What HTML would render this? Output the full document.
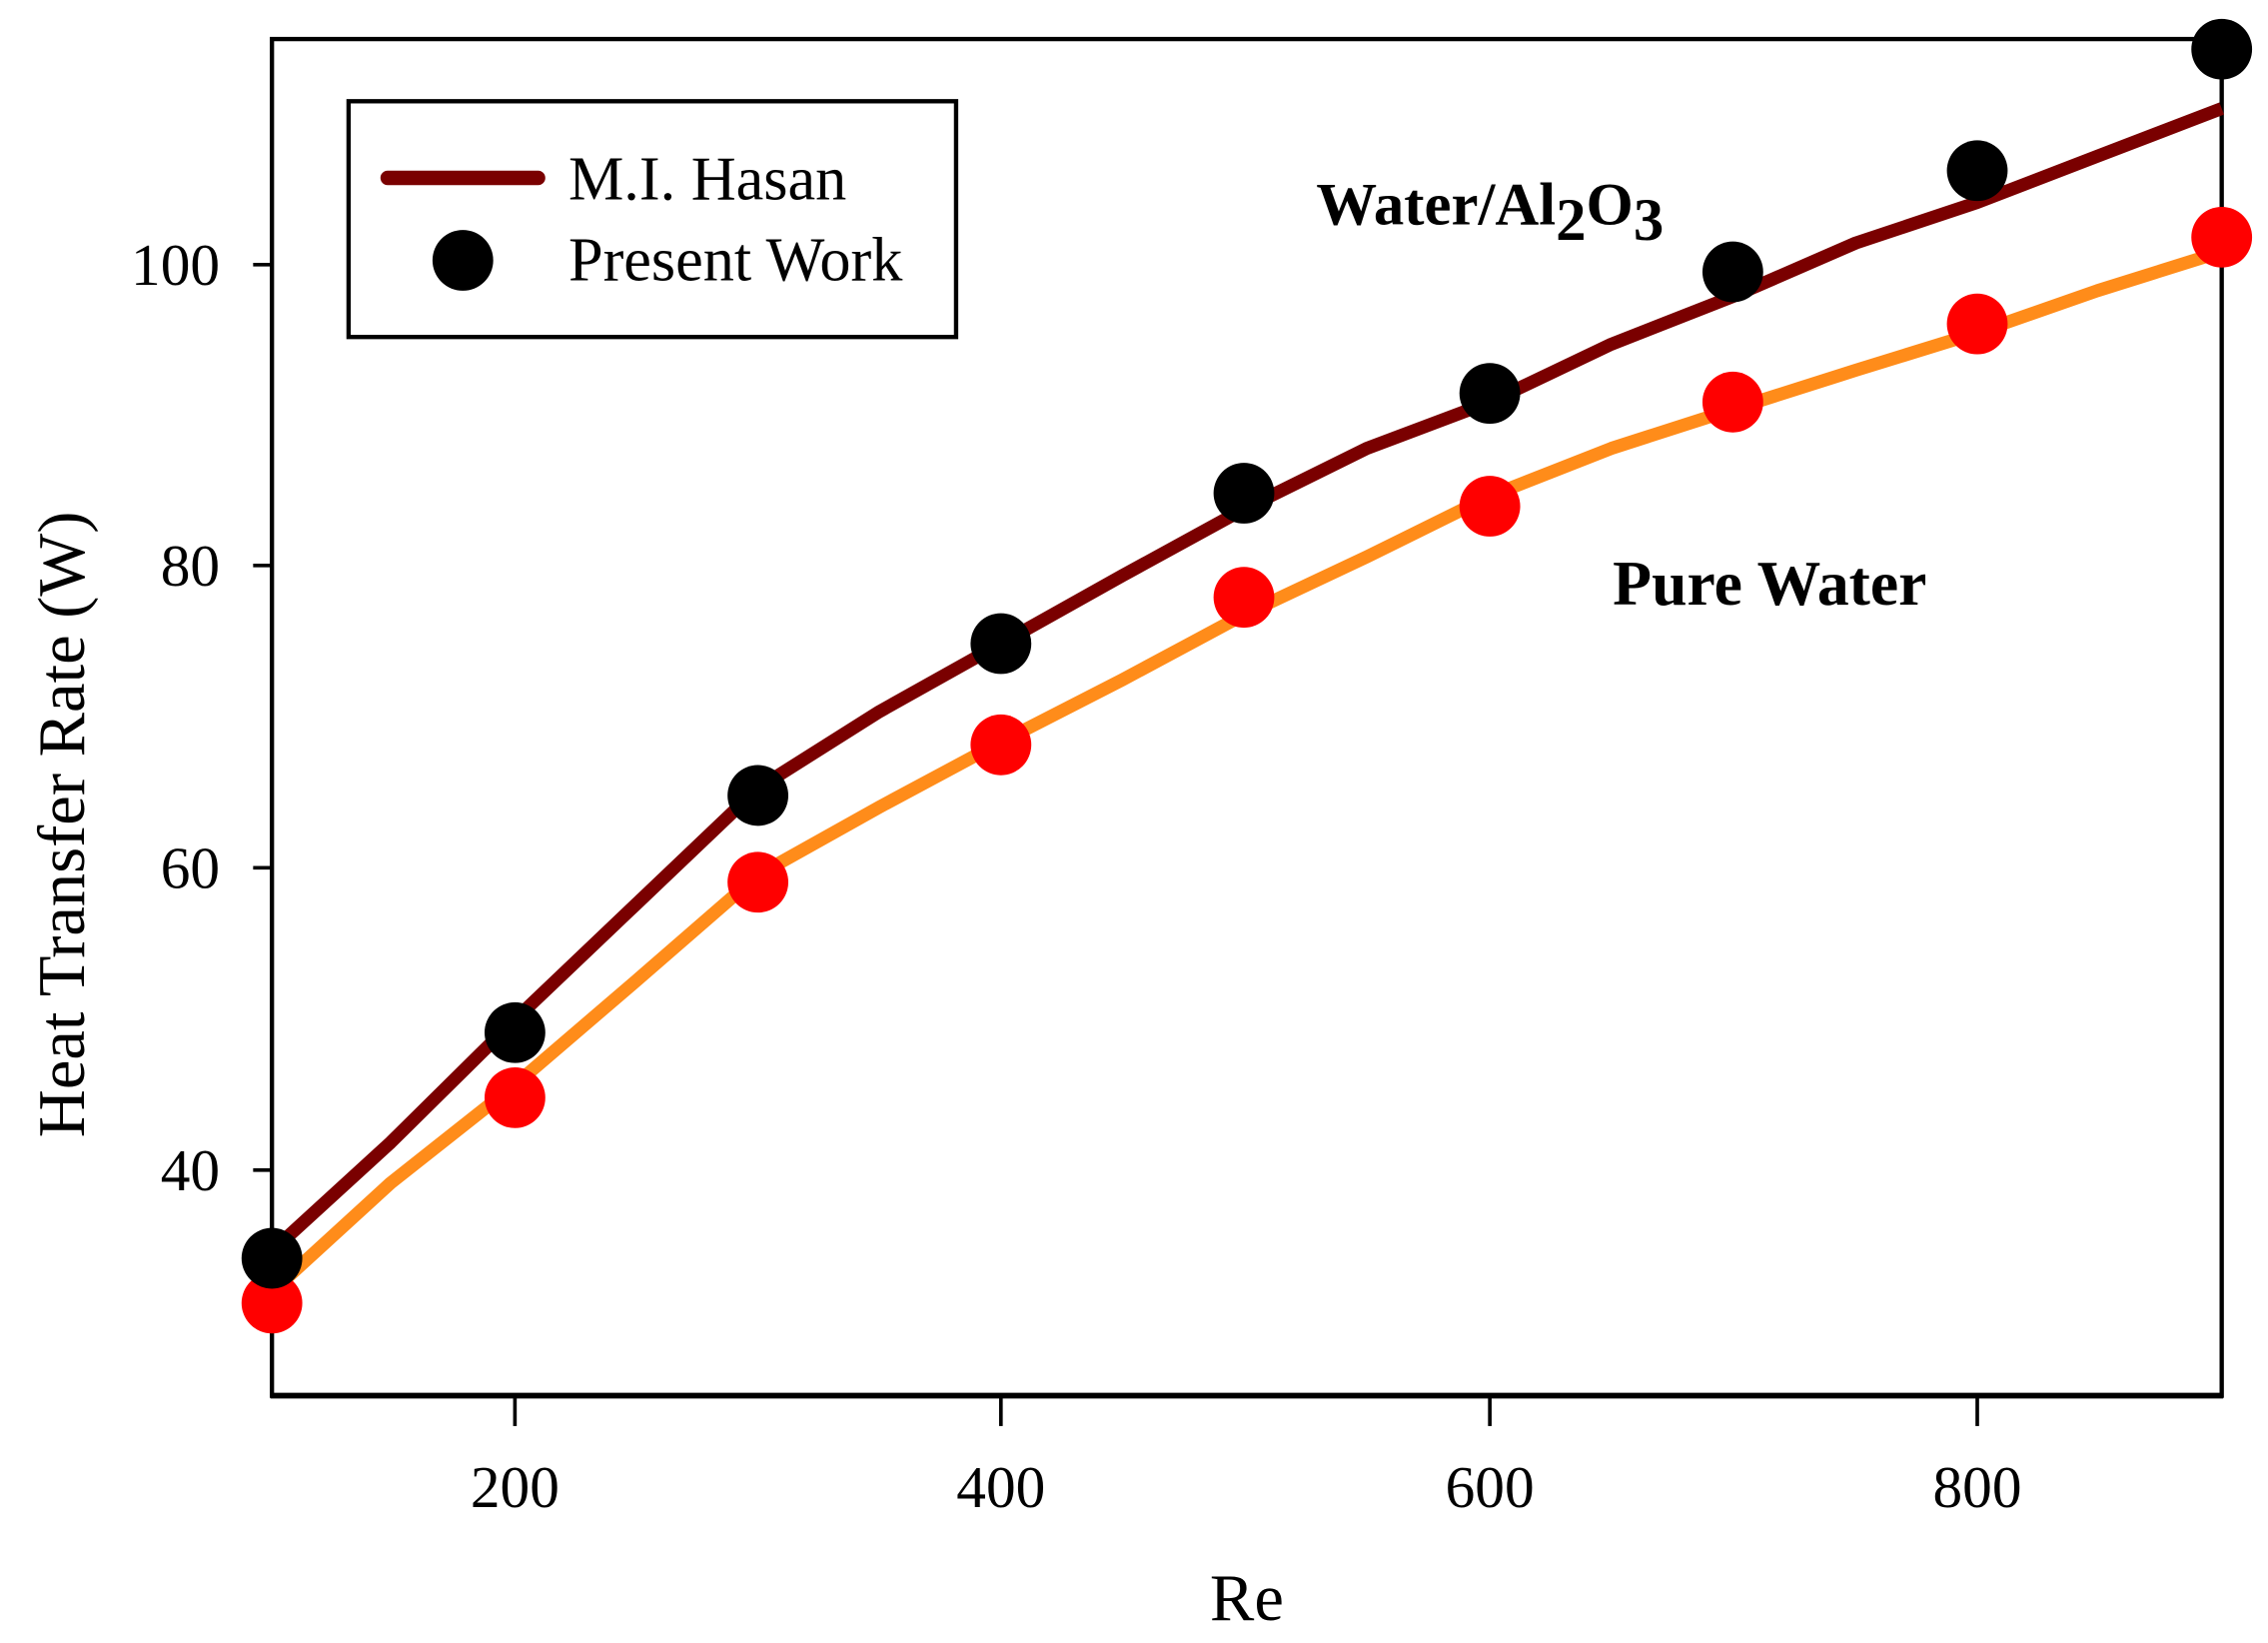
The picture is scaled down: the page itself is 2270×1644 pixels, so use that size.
<!DOCTYPE html>
<html><head><meta charset="utf-8"><style>html,body{margin:0;padding:0;background:#fff}svg{display:block}</style></head>
<body>
<svg width="2270" height="1644" viewBox="0 0 1568 1136" preserveAspectRatio="none" xmlns="http://www.w3.org/2000/svg" font-family="'Liberation Serif', serif">
<rect width="1568" height="1136" fill="#fff"/>
<rect x="188" y="27" width="1348" height="938" fill="none" stroke="#000" stroke-width="3"/>
<line x1="187" y1="965" x2="1537" y2="965" stroke="#000" stroke-width="4"/>
<g stroke="#000" stroke-width="2.5">
<line x1="175" y1="183" x2="188" y2="183"/><line x1="175" y1="391" x2="188" y2="391"/>
<line x1="175" y1="600" x2="188" y2="600"/><line x1="175" y1="809" x2="188" y2="809"/>
<line x1="356" y1="965" x2="356" y2="986"/><line x1="692" y1="965" x2="692" y2="986"/>
<line x1="1030" y1="965" x2="1030" y2="986"/><line x1="1367" y1="965" x2="1367" y2="986"/>
</g>
<g font-size="41" fill="#000" text-anchor="end">
<text x="152" y="197">100</text><text x="152" y="405">80</text><text x="152" y="614">60</text><text x="152" y="823">40</text>
</g>
<g font-size="41" fill="#000" text-anchor="middle">
<text x="356" y="1042">200</text><text x="692" y="1042">400</text><text x="1030" y="1042">600</text><text x="1367" y="1042">800</text>
</g>
<text x="862" y="1120" font-size="46" text-anchor="middle">Re</text>
<text transform="translate(58,570) rotate(-90)" font-size="46" text-anchor="middle">Heat Transfer Rate (W)</text>
<polyline fill="none" stroke="#7a0000" stroke-width="9" stroke-linejoin="round" points="188,865 270,790 356,705 440,625 524,545 608,492 692,445 776,398 860,352 945,310 1030,278 1114,238 1198,205 1283,168 1367,140 1450,108 1536,75"/>
<polyline fill="none" stroke="#ff8c1a" stroke-width="9" stroke-linejoin="round" points="188,893 270,818 356,750 440,678 524,605 608,558 692,513 776,470 860,425 945,385 1030,343 1114,310 1198,283 1283,256 1367,230 1450,201 1536,174"/>
<g fill="#ff0000">
<circle cx="188" cy="901" r="21"/><circle cx="356" cy="759" r="21"/><circle cx="524" cy="610" r="21"/><circle cx="692" cy="515" r="21"/><circle cx="860" cy="413" r="21"/><circle cx="1030" cy="350" r="21"/><circle cx="1198" cy="278" r="21"/><circle cx="1367" cy="224" r="21"/><circle cx="1536" cy="164" r="21"/>
</g>
<g fill="#000">
<circle cx="188" cy="870" r="21"/><circle cx="356" cy="714" r="21"/><circle cx="524" cy="550" r="21"/><circle cx="692" cy="445" r="21"/><circle cx="860" cy="341" r="21"/><circle cx="1030" cy="272" r="21"/><circle cx="1198" cy="188" r="21"/><circle cx="1367" cy="118" r="21"/><circle cx="1536" cy="34" r="21"/>
</g>
<rect x="241" y="70" width="420" height="163" fill="#fff" stroke="#000" stroke-width="3"/>
<line x1="268" y1="123" x2="372" y2="123" stroke="#7a0000" stroke-width="10" stroke-linecap="round"/>
<circle cx="320" cy="180" r="21" fill="#000"/>
<text x="393" y="138" font-size="43">M.I. Hasan</text>
<text x="393" y="194" font-size="43">Present Work</text>
<text x="910" y="155" font-size="42" font-weight="bold">Water/Al<tspan dy="11">2</tspan><tspan dy="-11">O</tspan><tspan dy="11">3</tspan></text>
<text x="1115" y="418" font-size="44" font-weight="bold">Pure Water</text>
</svg>
</body></html>
